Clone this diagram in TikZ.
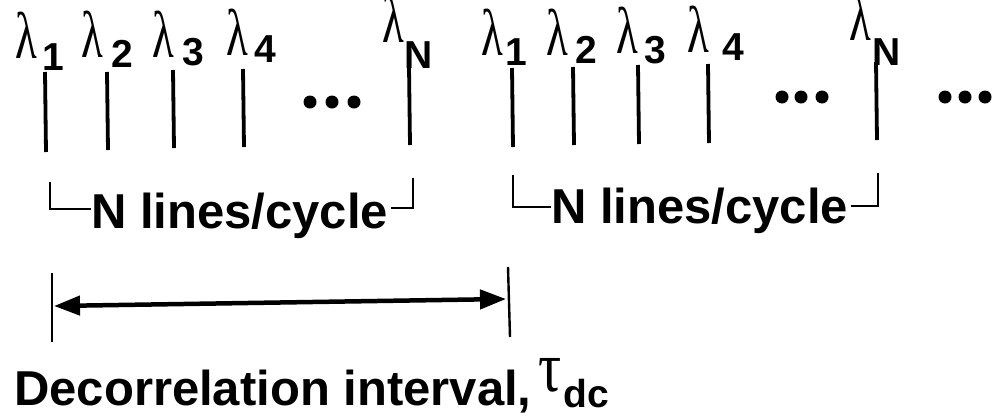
\documentclass[tikz,border=0pt]{standalone}
\usepackage{fontspec}
\usepackage{graphicx}
\setmainfont{Liberation Sans}
\newfontfamily\greekfont{Liberation Serif}
\usetikzlibrary{arrows.meta}
\newcommand\lamglyph{\raisebox{0pt}[34pt][0pt]{\greekfont\fontsize{66}{66}\selectfont\scalebox{0.68}[1]{λ}}}
\newcommand\subtxt[1]{{\fontsize{39}{39}\bfseries\selectfont #1}}
\begin{document}
\begin{tikzpicture}[x=1pt,y=-1pt,
  specline/.style={line width=3.8pt},
  brk/.style={line width=2pt},
  lbl/.style={inner sep=0pt, anchor=base west},
  dotmark/.style={fill=black, circle, inner sep=0pt, minimum size=13pt},
  bigtxt/.style={inner sep=0pt, anchor=base west, font=\fontsize{49}{49}\bfseries\selectfont},
  dimarrow/.style={line width=4.5pt, {Triangle[length=26pt,width=19pt]}-{Triangle[length=26pt,width=19pt]}}
]
\useasboundingbox (0,0) rectangle (998,418);

% --- lambda labels, group 1
\node[lbl] (la1) at (15,58) {\lamglyph};  \node[lbl] (sa1) at (42,70) {\subtxt{1}};
\node[lbl] (la2) at (81,57) {\lamglyph};  \node[lbl] (sa2) at (111,67) {\subtxt{2}};
\node[lbl] (la3) at (152,57) {\lamglyph}; \node[lbl] (sa3) at (182,65) {\subtxt{3}};
\node[lbl] (la4) at (226,55) {\lamglyph}; \node[lbl] (sa4) at (254,62) {\subtxt{4}};
\node[lbl] (laN) at (382,42) {\lamglyph}; \node[lbl] (saN) at (404,68) {\subtxt{N}};
% --- lambda labels, group 2
\node[lbl] (lb1) at (481,55) {\lamglyph}; \node[lbl] (sb1) at (505,65) {\subtxt{1}};
\node[lbl] (lb2) at (546,55) {\lamglyph}; \node[lbl] (sb2) at (575,63) {\subtxt{2}};
\node[lbl] (lb3) at (616,53) {\lamglyph}; \node[lbl] (sb3) at (644,63) {\subtxt{3}};
\node[lbl] (lb4) at (687,52) {\lamglyph}; \node[lbl] (sb4) at (722,60) {\subtxt{4}};
\node[lbl] (lbN) at (849,40) {\lamglyph}; \node[lbl] (sbN) at (872,65) {\subtxt{N}};

% --- spectral lines
\coordinate (ta1) at (45,72);  \coordinate (ba1) at (46,152);
\coordinate (ta2) at (107,72); \coordinate (ba2) at (108,150);
\coordinate (ta3) at (173,70); \coordinate (ba3) at (174,148);
\coordinate (ta4) at (243,69); \coordinate (ba4) at (244,147);
\coordinate (taN) at (409,66); \coordinate (baN) at (410,145);
\coordinate (tb1) at (512,68); \coordinate (bb1) at (513,147);
\coordinate (tb2) at (573,67); \coordinate (bb2) at (574,145);
\coordinate (tb3) at (638,65); \coordinate (bb3) at (639,144);
\coordinate (tb4) at (708,64); \coordinate (bb4) at (709,143);
\coordinate (tbN) at (876,62); \coordinate (bbN) at (877,140);
\foreach \n in {a1,a2,a3,a4,aN,b1,b2,b3,b4,bN}
  \draw[specline] (t\n) -- (b\n);

% --- ellipsis dots
\node[dotmark] (d11) at (310,102) {};
\node[dotmark] (d12) at (332,102) {};
\node[dotmark] (d13) at (354,102) {};
\node[dotmark] (d21) at (782,97) {};
\node[dotmark] (d22) at (801,97) {};
\node[dotmark] (d23) at (822,97) {};
\node[dotmark] (d31) at (945,97) {};
\node[dotmark] (d32) at (965,97) {};
\node[dotmark] (d33) at (985,97) {};

% --- N lines/cycle brackets
\node[bigtxt] (cyc1) at (91,228) {N lines/cycle};
\coordinate (c1a) at (50,182); \coordinate (c1b) at (50,209);
\coordinate (c1c) at (413,178); \coordinate (c1d) at (413,208);
\draw[brk] (c1a) -- (c1b) -- (cyc1.west |- c1b);
\draw[brk] (c1c) -- (c1d) -- ([xshift=3pt]cyc1.east |- c1d);

\node[bigtxt] (cyc2) at (551,223) {N lines/cycle};
\coordinate (c2a) at (513,175); \coordinate (c2b) at (513,207);
\coordinate (c2c) at (878,173); \coordinate (c2d) at (878,206);
\draw[brk] (c2a) -- (c2b) -- (cyc2.west |- c2b);
\draw[brk] (c2c) -- (c2d) -- ([xshift=3pt]cyc2.east |- c2d);

% --- decorrelation interval
\coordinate (ltop) at (52,273); \coordinate (lbot) at (52,342);
\coordinate (rtop) at (508,267); \coordinate (rbot) at (510,337);
\draw[line width=2.4pt] (ltop) -- (lbot);
\draw[line width=2.4pt] (rtop) -- (rbot);
\coordinate (al) at (54,306); \coordinate (ar) at (506,299);
\draw[dimarrow] (al) -- (ar);

\node[bigtxt] (dec) at (14,405) {Decorrelation interval,};
\node[lbl] (tau) at (538,391) {{\greekfont\fontsize{72}{72}\selectfont\scalebox{0.8}[1]{τ}}};
\node[lbl] (dc) at (563,407) {\subtxt{dc}};
\end{tikzpicture}
\end{document}
